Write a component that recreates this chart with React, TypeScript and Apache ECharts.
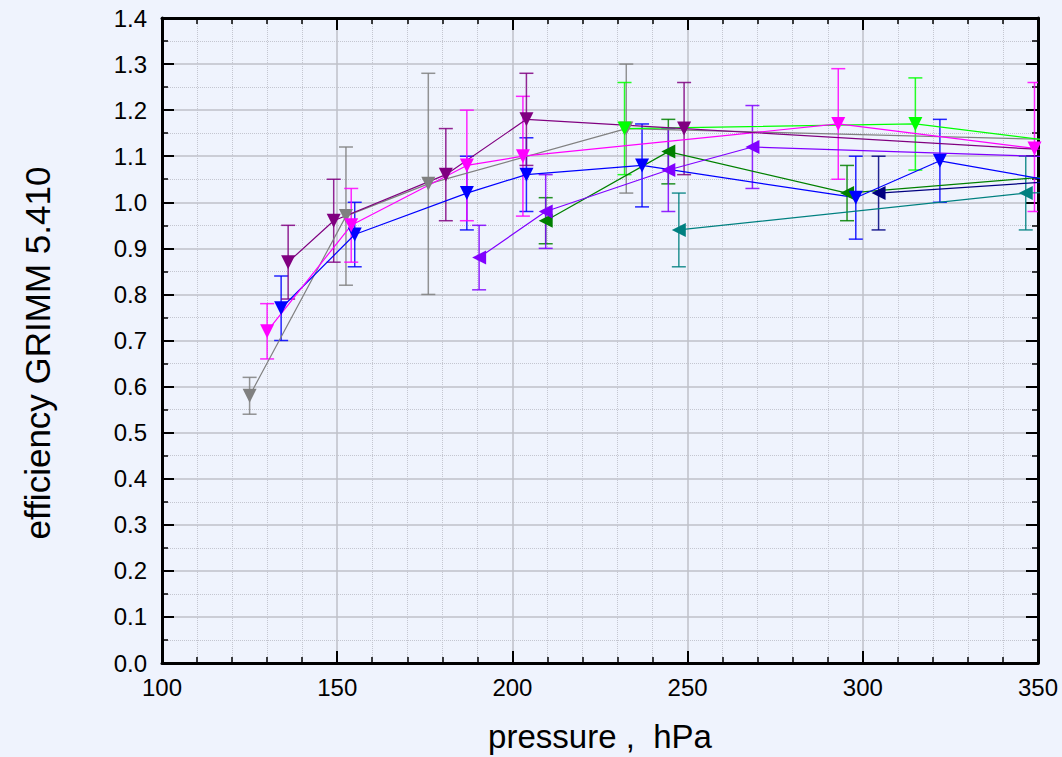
import React, { useEffect, useRef } from "react";
import * as echarts from "echarts";

// ---- data (pressure hPa, efficiency, error low, error high) ----
const grayP = [125, 152.5, 176, 232.5, 370];
const grayE = [0.58, 0.97, 1.04, 1.16, 1.133];
const grayLo = [0.54, 0.82, 0.8, 1.02, null];
const grayHi = [0.62, 1.12, 1.28, 1.3, null];

const magentaP = [130, 154, 187, 203, 293, 349];
const magentaE = [0.72, 0.95, 1.08, 1.1, 1.17, 1.117];
const magentaLo = [0.66, 0.87, 0.96, 0.97, 1.05, 0.98];
const magentaHi = [0.78, 1.03, 1.2, 1.23, 1.29, 1.26];

const purpleP = [136, 149, 181, 204, 249, 370];
const purpleE = [0.87, 0.96, 1.06, 1.18, 1.16, 1.106];
const purpleLo = [0.79, 0.87, 0.96, 1.08, 1.06, null];
const purpleHi = [0.95, 1.05, 1.16, 1.28, 1.26, null];

const blueP = [134, 155, 187, 204, 237, 298, 322, 370];
const blueE = [0.77, 0.93, 1.02, 1.06, 1.08, 1.01, 1.09, 1.025];
const blueLo = [0.7, 0.86, 0.94, 0.98, 0.99, 0.92, 1.0, null];
const blueHi = [0.84, 1.0, 1.1, 1.14, 1.17, 1.1, 1.18, null];

const limeP = [232, 315, 370];
const limeE = [1.16, 1.17, 1.118];
const limeLo = [1.06, 1.07, null];
const limeHi = [1.26, 1.27, null];

const violetP = [190.5, 209.5, 244.5, 268.5, 370];
const violetE = [0.88, 0.98, 1.07, 1.12, 1.095];
const violetLo = [0.81, 0.9, 0.98, 1.03, null];
const violetHi = [0.95, 1.06, 1.16, 1.21, null];

const greenP = [209.5, 244.5, 295.5, 370];
const greenE = [0.96, 1.11, 1.02, 1.066];
const greenLo = [0.91, 1.04, 0.96, null];
const greenHi = [1.01, 1.18, 1.08, null];

const tealP = [247.5, 346.5, 370];
const tealE = [0.94, 1.02, 1.025];
const tealLo = [0.86, 0.94, null];
const tealHi = [1.02, 1.1, null];

const navyP = [304.5, 370];
const navyE = [1.02, 1.053];
const navyLo = [0.94, null];
const navyHi = [1.1, null];

const xTitle = "pressure ,  hPa";
const yTitle = "efficiency GRIMM 5.410";

type S = {
  name: string;
  color: string;
  rot: number;
  p: number[];
  e: number[];
  lo: (number | null)[];
  hi: (number | null)[];
};

const seriesDefs: S[] = [
  { name: "gray", color: "#808080", rot: 180, p: grayP, e: grayE, lo: grayLo, hi: grayHi },
  { name: "navy", color: "#000080", rot: 90, p: navyP, e: navyE, lo: navyLo, hi: navyHi },
  { name: "teal", color: "#008080", rot: 90, p: tealP, e: tealE, lo: tealLo, hi: tealHi },
  { name: "green", color: "#008000", rot: 90, p: greenP, e: greenE, lo: greenLo, hi: greenHi },
  { name: "violet", color: "#8000ff", rot: 90, p: violetP, e: violetE, lo: violetLo, hi: violetHi },
  { name: "lime", color: "#00ff00", rot: 180, p: limeP, e: limeE, lo: limeLo, hi: limeHi },
  { name: "blue", color: "#0000ff", rot: 180, p: blueP, e: blueE, lo: blueLo, hi: blueHi },
  { name: "magenta", color: "#ff00ff", rot: 180, p: magentaP, e: magentaE, lo: magentaLo, hi: magentaHi },
  { name: "purple", color: "#800080", rot: 180, p: purpleP, e: purpleE, lo: purpleLo, hi: purpleHi },
];

const FONT = "'Liberation Sans', Arial, sans-serif";
const BG = "#eff3fd";

export default function App() {
  const ref = useRef<HTMLDivElement>(null);
  useEffect(() => {
    if (!ref.current) return;
    const chart = echarts.init(ref.current, null, { renderer: "svg" });

    const series: any[] = [];
    seriesDefs.forEach((s) => {
      const errData = s.p
        .map((x, i) => [x, s.lo[i], s.hi[i]])
        .filter((d) => d[1] !== null && d[2] !== null);
      series.push({
        type: "custom",
        name: s.name + "-err",
        xAxisIndex: 0,
        yAxisIndex: 0,
        clip: true,
        z: 2,
        encode: { x: 0, y: [1, 2] },
        data: errData,
        renderItem: (params: any, api: any) => {
          const x = api.value(0);
          const lo = api.coord([x, api.value(1)]);
          const hi = api.coord([x, api.value(2)]);
          const w = 7;
          const st = { stroke: s.color, lineWidth: 1.5, opacity: 0.85 };
          return {
            type: "group",
            children: [
              { type: "line", shape: { x1: lo[0], y1: lo[1], x2: hi[0], y2: hi[1] }, style: st },
              { type: "line", shape: { x1: hi[0] - w, y1: hi[1], x2: hi[0] + w, y2: hi[1] }, style: st },
              { type: "line", shape: { x1: lo[0] - w, y1: lo[1], x2: lo[0] + w, y2: lo[1] }, style: st },
            ],
          };
        },
      });
      series.push({
        type: "line",
        name: s.name,
        xAxisIndex: 0,
        yAxisIndex: 0,
        z: 3,
        clip: true,
        data: s.p.map((x, i) => [x, s.e[i]]),
        symbol: "triangle",
        symbolRotate: s.rot,
        symbolSize: 14,
        showSymbol: true,
        lineStyle: { color: s.color, width: 1.2 },
        itemStyle: { color: s.color },
      });
    });

    const axisLine = { show: true, onZero: false, lineStyle: { color: "#000", width: 3 } };
    const tick = { show: true, inside: true, length: 12, lineStyle: { color: "#000", width: 2 } };
    const splitLine = { show: true, lineStyle: { color: "#bfc1c8", width: 1.5 } };
    const minorSplit = { show: true, lineStyle: { color: "#c4c6d0", type: "dotted", width: 1 } };

    chart.setOption({
      animation: false,
      backgroundColor: BG,
      grid: { left: 162, top: 18, right: 24, bottom: 94, containLabel: false },
      xAxis: [
        {
          type: "value",
          min: 100,
          max: 350,
          interval: 50,
          position: "bottom",
          axisLine,
          axisTick: tick,
          minorTick: { show: true, splitNumber: 5, length: 6, lineStyle: { color: "#000", width: 1.5 } },
          splitLine,
          minorSplitLine: minorSplit,
          axisLabel: { fontSize: 24, color: "#000", margin: 12, fontFamily: FONT },
        },
        {
          type: "value",
          min: 100,
          max: 350,
          interval: 50,
          position: "top",
          axisLine,
          axisTick: tick,
          minorTick: { show: true, splitNumber: 5, length: 6, lineStyle: { color: "#000", width: 1.5 } },
          splitLine: { show: false },
          axisLabel: { show: false },
        },
      ],
      yAxis: [
        {
          type: "value",
          min: 0,
          max: 1.4,
          interval: 0.1,
          position: "left",
          axisLine,
          axisTick: tick,
          minorTick: { show: true, splitNumber: 2, length: 6, lineStyle: { color: "#000", width: 1.5 } },
          splitLine,
          minorSplitLine: minorSplit,
          axisLabel: {
            fontSize: 24,
            color: "#000",
            margin: 15,
            fontFamily: FONT,
            formatter: (v: number) => v.toFixed(1),
          },
        },
        {
          type: "value",
          min: 0,
          max: 1.4,
          interval: 0.1,
          position: "right",
          axisLine,
          axisTick: tick,
          minorTick: { show: true, splitNumber: 2, length: 6, lineStyle: { color: "#000", width: 1.5 } },
          splitLine: { show: false },
          axisLabel: { show: false },
        },
      ],
      graphic: [
        {
          type: "text",
          x: 600,
          y: 736,
          style: {
            text: xTitle,
            fontSize: 33,
            fontFamily: FONT,
            fill: "#000",
            textAlign: "center",
            textVerticalAlign: "middle",
          },
        },
        {
          type: "text",
          x: 37,
          y: 353,
          rotation: Math.PI / 2,
          style: {
            text: yTitle,
            fontSize: 35,
            fontFamily: FONT,
            fill: "#000",
            textAlign: "center",
            textVerticalAlign: "middle",
          },
        },
      ],
      series,
    });
    return () => chart.dispose();
  }, []);
  return (
    <div
      ref={ref}
      style={{ position: "fixed", left: 0, top: 0, width: 1062, height: 757, background: BG }}
    />
  );
}
